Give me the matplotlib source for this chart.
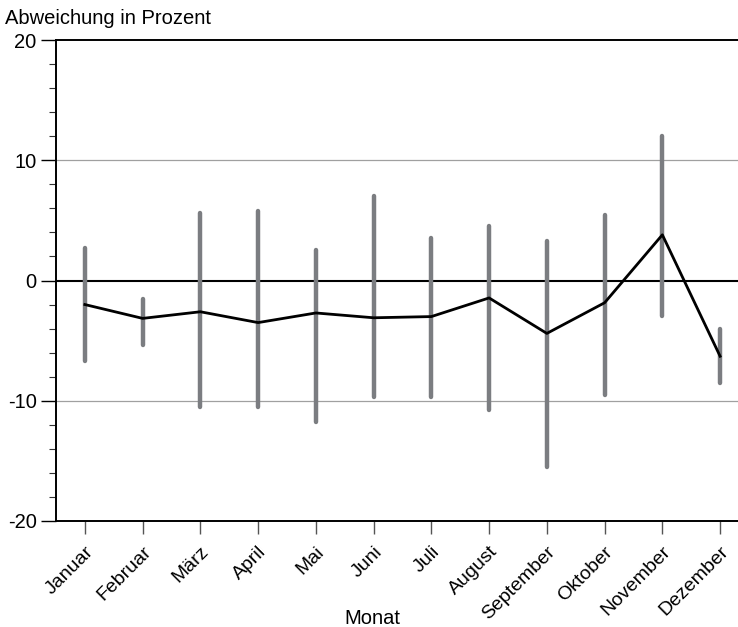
import numpy as np
import matplotlib
matplotlib.use('Agg')
from matplotlib import pyplot as plt
from matplotlib.ticker import MultipleLocator

plt.rcParams['font.family'] = ['Liberation Sans', 'DejaVu Sans']
plt.rcParams['axes.unicode_minus'] = False

months = ['Januar', 'Februar', 'März', 'April', 'Mai', 'Juni', 'Juli',
          'August', 'September', 'Oktober', 'November', 'Dezember']
mean_dev = [-2.0, -3.15, -2.6, -3.5, -2.7, -3.1, -3.0, -1.45, -4.4, -1.85, 3.8, -6.3]
dev_max = [2.7, -1.55, 5.6, 5.8, 2.5, 7.05, 3.55, 4.55, 3.3, 5.45, 12.05, -4.05]
dev_min = [-6.7, -5.4, -10.5, -10.5, -11.8, -9.7, -9.7, -10.8, -15.5, -9.5, -2.95, -8.5]

x = np.arange(len(months))

fig = plt.figure(figsize=(7.38, 6.27), dpi=100)
ax = fig.add_axes([56 / 738, 1 - 521 / 627, 1 - 56 / 738, 481 / 627])

for v in [-10, 10]:
    ax.axhline(v, color='#a0a0a0', lw=0.9, zorder=1)
ax.axhline(0, color='black', lw=1.5, zorder=1)

ax.vlines(x, dev_min, dev_max, color='#7b7d81', lw=3.2, capstyle='round', zorder=2)
ax.plot(x, mean_dev, color='black', lw=2, zorder=3)

ax.set_xlim(-0.5, 11.31)
ax.set_ylim(-20, 20)
ax.yaxis.set_major_locator(MultipleLocator(10))
ax.yaxis.set_minor_locator(MultipleLocator(2))
ax.set_xticks(x)
ax.set_xticklabels(months, rotation=45, ha='right', rotation_mode='anchor', fontsize=14)
ax.tick_params(axis='y', which='major', length=11, width=1, labelsize=14.5, pad=3)
ax.tick_params(axis='y', which='minor', length=5, width=0.8, color='#333333')
ax.tick_params(axis='x', length=9, width=1, color='#555555', pad=7)

ax.spines['right'].set_visible(False)
for s in ['left', 'bottom', 'top']:
    ax.spines[s].set_linewidth(1.4)
    ax.spines[s].set_color('black')

fig.text(5 / 738, 1 - 18 / 627, 'Abweichung in Prozent', fontsize=14.5, va='center', ha='left')
fig.text(372 / 738, 1 - 619 / 627, 'Monat', fontsize=14.5, va='center', ha='center')

fig.savefig('out.png', dpi=100)
